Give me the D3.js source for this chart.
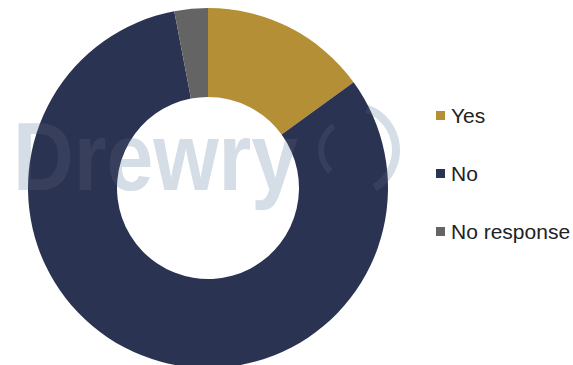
<!DOCTYPE html>
<html>
<head>
<meta charset="utf-8">
<script src="https://cdn.jsdelivr.net/npm/d3@7"></script>
<style>
  body { margin: 0; background: #fff; }
  svg { display: block; }
</style>
</head>
<body>
<div id="viz-wrapper"></div>
<script>
// Data
let categories = ['Yes', 'No', 'No response'];
let values = [15, 82, 3];
let colors = ['#b58f35', '#2b3353', '#646464'];

let width = 573,
    height = 365;

let cx = 208,
    cy = 188,
    outerRadius = 180,
    innerRadius = 91;

let svg = d3.select('#viz-wrapper')
              .append('svg')
              .attr('width', width)
              .attr('height', height);

// Watermark, drawn behind the donut and again faintly over it
function drawWatermark(g) {
  g.append('text')
    .attr('x', 13)
    .attr('y', 190)
    .attr('textLength', 285)
    .attr('lengthAdjust', 'spacingAndGlyphs')
    .style('font-family', 'Liberation Sans, Arial, sans-serif')
    .style('font-weight', 'bold')
    .style('font-size', '96px')
    .style('fill', '#d5dde6')
    .text('Drewry');

  // rough logo arcs
  let logoArc = d3.arc();
  let pieces = [
    {innerRadius: 40, outerRadius: 48, startAngle: 0.35, endAngle: 2.6, x: 352, y: 150},
    {innerRadius: 26, outerRadius: 32, startAngle: -2.4, endAngle: -0.6, x: 350, y: 150}
  ];
  g.selectAll('path.logo')
    .data(pieces)
    .enter()
    .append('path')
    .attr('class', 'logo')
    .attr('transform', function(d){ return 'translate(' + d.x + ',' + d.y + ')'; })
    .attr('d', logoArc)
    .style('fill', '#d5dde6');
}

let wmBack = svg.append('g').attr('class', 'watermark');
drawWatermark(wmBack);

// Donut
let pie = d3.pie().sort(null).value(function(d){ return d; });
let arc = d3.arc().innerRadius(innerRadius).outerRadius(outerRadius);

let donut = svg.append('g')
              .attr('transform', 'translate(' + cx + ',' + cy + ')');

donut.selectAll('path')
  .data(pie(values))
  .enter()
  .append('path')
  .attr('d', arc)
  .style('fill', function(d, i){ return colors[i]; });

let wmFront = svg.append('g').attr('class', 'watermark').style('opacity', 0.07);
drawWatermark(wmFront);

// Legend
let legendY = d3.scalePoint().domain(categories).range([116, 232]);

let legend = svg.selectAll('g.legend-item')
              .data(categories)
              .enter()
              .append('g')
              .attr('class', 'legend-item')
              .attr('transform', function(d){ return 'translate(436,' + legendY(d) + ')'; });

legend.append('rect')
  .attr('x', 0)
  .attr('y', -5)
  .attr('width', 9)
  .attr('height', 9)
  .style('fill', function(d, i){ return colors[i]; });

legend.append('text')
  .attr('x', 15)
  .attr('y', 7)
  .style('font-family', 'Liberation Sans, Arial, sans-serif')
  .style('font-size', '21px')
  .style('fill', '#222')
  .text(function(d){ return d; });
</script>
</body>
</html>
